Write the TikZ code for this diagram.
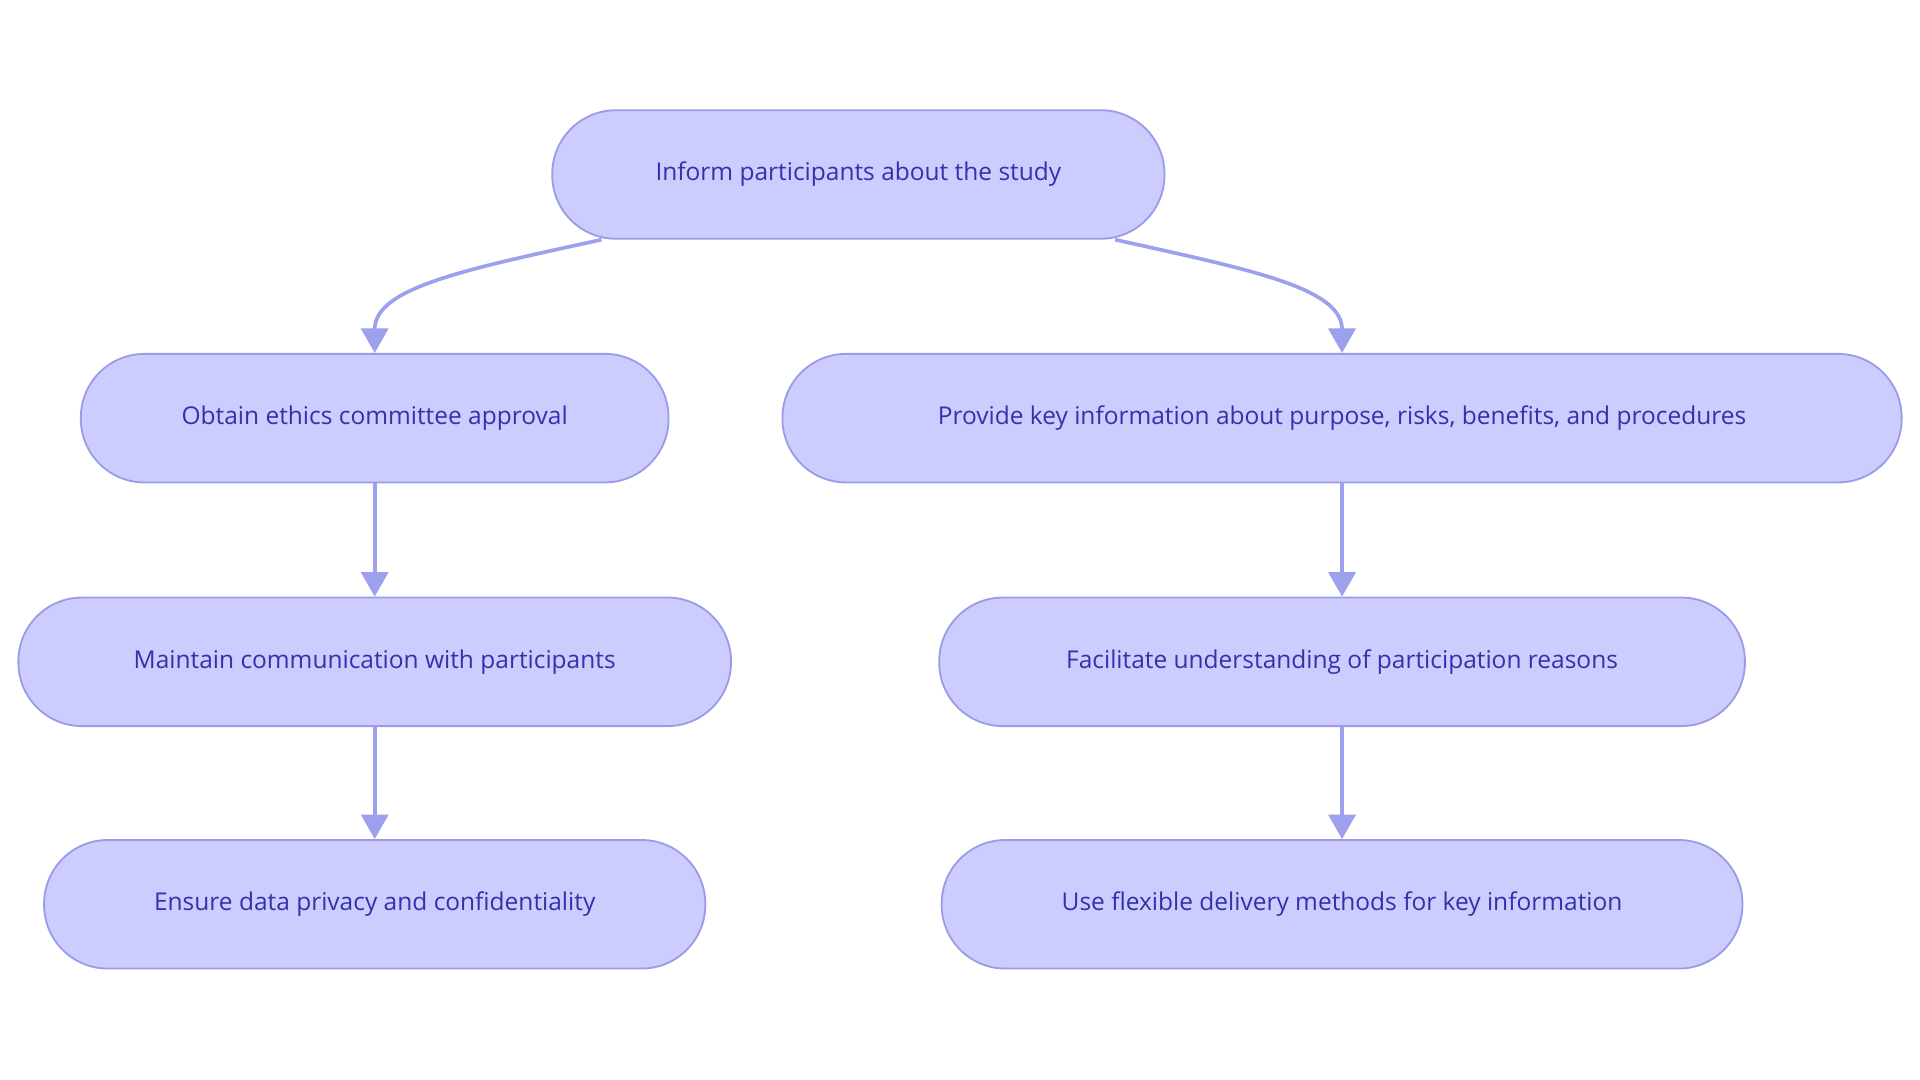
\documentclass[tikz,border=0pt]{standalone}
\usepackage{fontspec}
\setmainfont{Open Sans}
\usetikzlibrary{arrows.meta,calc}
\definecolor{nfill}{HTML}{CCCCFF}
\definecolor{nline}{HTML}{9A9CE6}
\definecolor{ntext}{HTML}{3232AA}
\definecolor{eline}{HTML}{9DA0EC}
\begin{document}
\begin{tikzpicture}[x=1pt,y=-1pt,
  box/.style={draw=nline,fill=nfill,line width=1.5pt,rounded corners=52pt,
    minimum height=105pt,text=ntext,font=\fontsize{20}{24}\selectfont,inner sep=0pt},
  edge/.style={draw=eline,line width=3pt,-{Triangle[length=20pt,width=22pt]}}]
\useasboundingbox (0,0) rectangle (1568,882);
\node[box,minimum width=500pt] (A) at (701,142.5) {Inform participants about the study};
\node[box,minimum width=480pt] (B) at (306,341.5) {Obtain ethics committee approval};
\node[box,minimum width=914pt] (C) at (1096,341.5) {Provide key information about purpose, risks, benefits, and procedures};
\node[box,minimum width=582pt] (D) at (306,540.5) {Maintain communication with participants};
\node[box,minimum width=658pt] (E) at (1096,540.5) {Facilitate understanding of participation reasons};
\node[box,minimum width=540pt] (F) at (306,738.5) {Ensure data privacy and confidentiality};
\node[box,minimum width=654pt] (G) at (1096,738.5) {Use flexible delivery methods for key information};
\coordinate (a1) at ($(A.south west)+(41,0)$);
\coordinate (a2) at ($(A.south east)+(-41,0)$);
\draw[edge] (a1) .. controls (380,220) and (306,235) .. (B.north);
\draw[edge] (a2) .. controls (1020,220) and (1096,235) .. (C.north);
\draw[edge] (B) -- (D);
\draw[edge] (D) -- (F);
\draw[edge] (C) -- (E);
\draw[edge] (E) -- (G);
\end{tikzpicture}
\end{document}
